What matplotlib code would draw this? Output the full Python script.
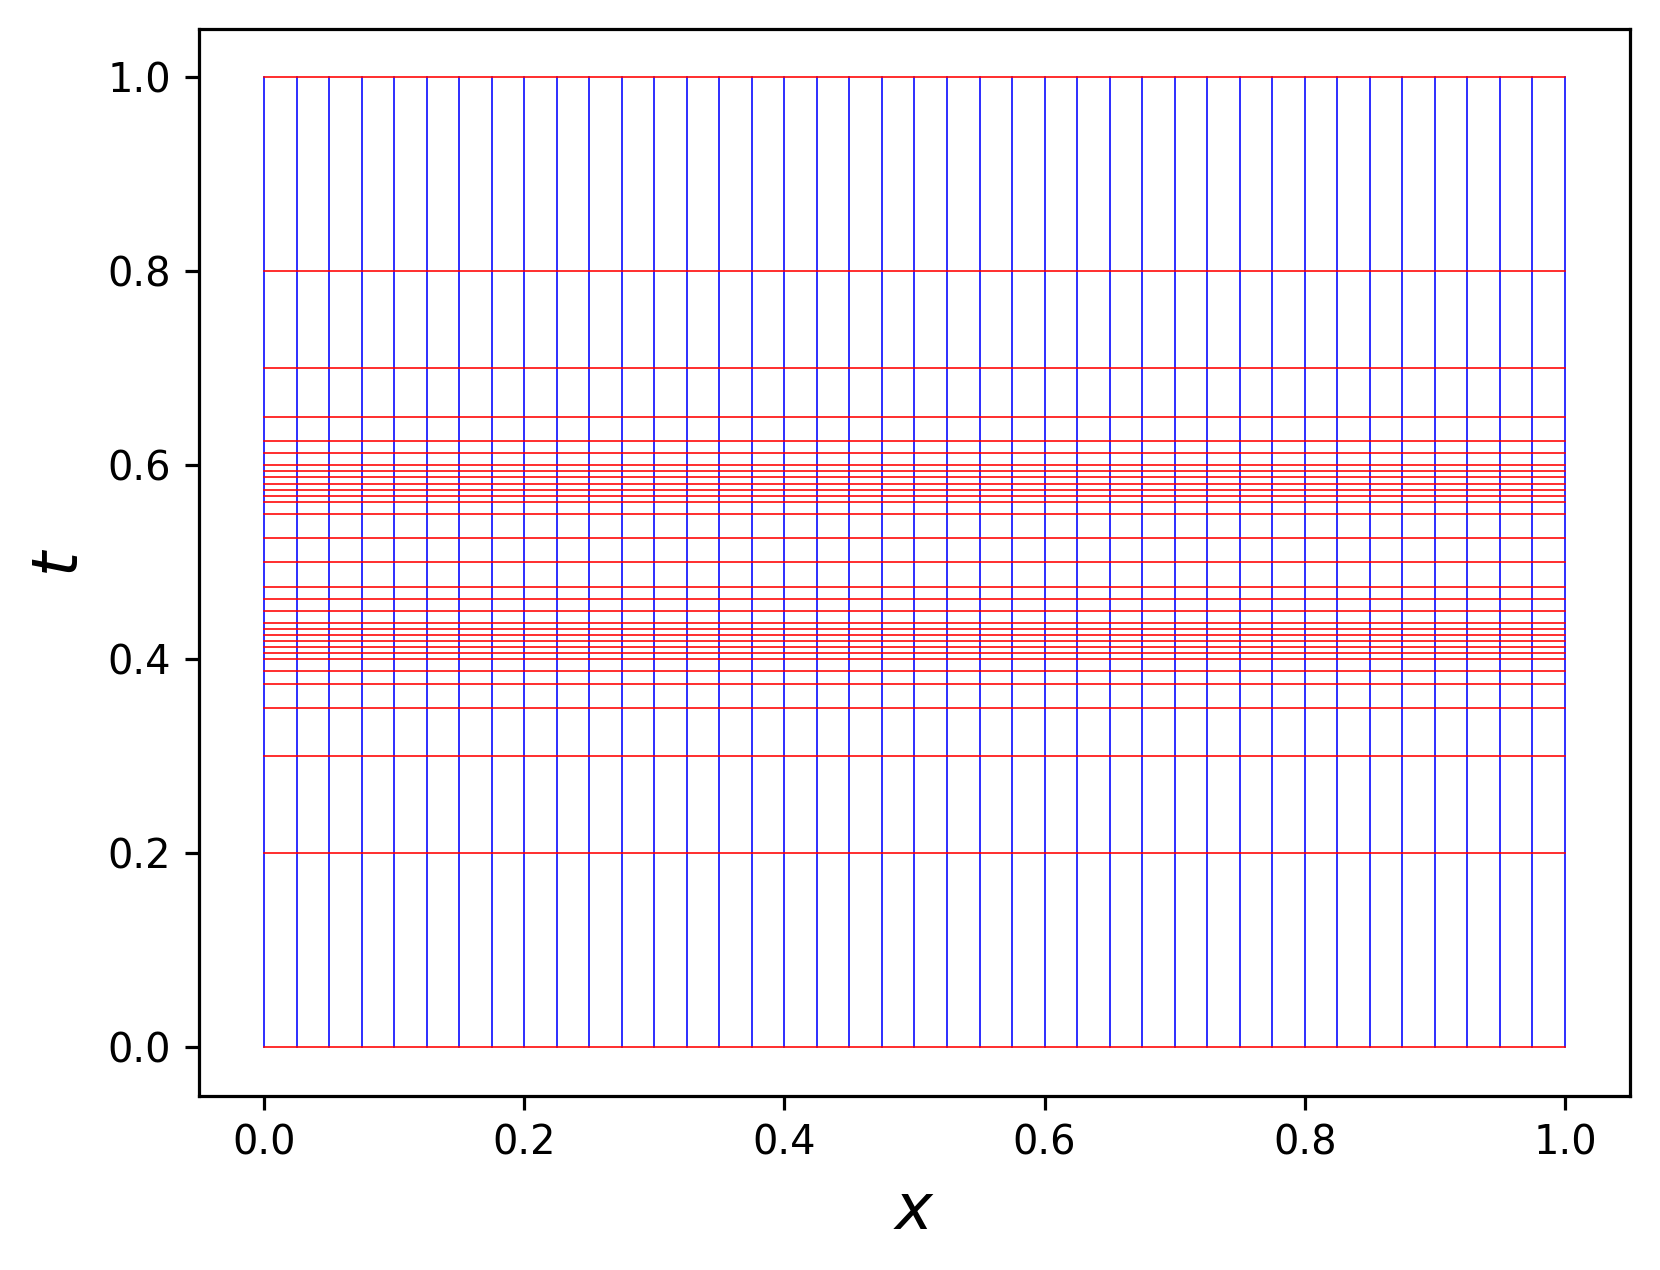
import numpy as np
import matplotlib
matplotlib.use("Agg")
import matplotlib.pyplot as plt

# space grid (vertical lines) and time levels (horizontal lines)
x_nodes = [0.0, 0.025, 0.05, 0.075, 0.1, 0.125, 0.15, 0.175, 0.2, 0.225,
           0.25, 0.275, 0.3, 0.325, 0.35, 0.375, 0.4, 0.425, 0.45, 0.475,
           0.5, 0.525, 0.55, 0.575, 0.6, 0.625, 0.65, 0.675, 0.7, 0.725,
           0.75, 0.775, 0.8, 0.825, 0.85, 0.875, 0.9, 0.925, 0.95, 0.975, 1.0]
t_levels = [0.0, 0.2, 0.3, 0.35, 0.375, 0.3875, 0.4, 0.40625, 0.4125,
            0.41875, 0.425, 0.43125, 0.4375, 0.45, 0.4625, 0.475, 0.5,
            0.525, 0.55, 0.5625, 0.56875, 0.575, 0.58125, 0.5875, 0.59375,
            0.6, 0.6125, 0.625, 0.65, 0.7, 0.8, 1.0]

DPI = 288
fig = plt.figure(figsize=(1660/DPI, 1270/DPI), dpi=DPI)
ax = fig.add_axes([0.1199, 0.1372, 0.862, 0.84])

t0, t1 = min(t_levels), max(t_levels)
x0, x1 = min(x_nodes), max(x_nodes)
for xv in x_nodes:
    ax.plot([xv, xv], [t0, t1], color='b', lw=0.4)
for tv in t_levels:
    ax.plot([x0, x1], [tv, tv], color='r', lw=0.4)

ax.set_xlabel(r'$x$', fontsize=16)
ax.set_ylabel(r'$t$', fontsize=16)

fig.savefig("out.png", dpi=DPI)
